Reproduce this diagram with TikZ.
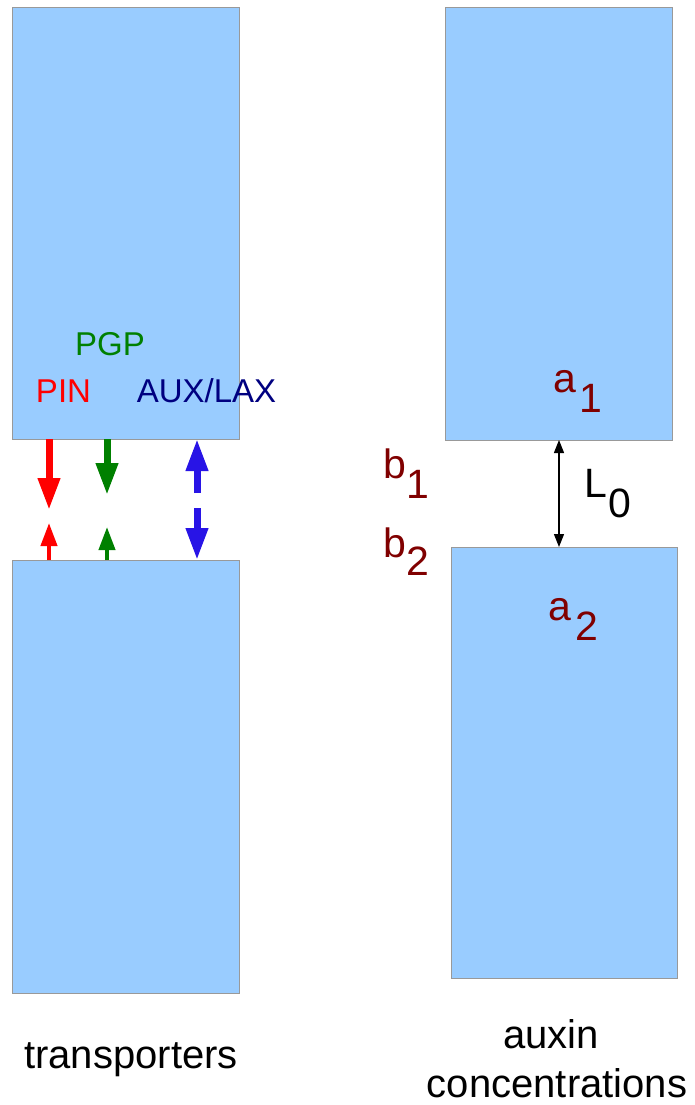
\documentclass[tikz,border=0pt]{standalone}
\usepackage{fontspec}
\setmainfont{Liberation Sans}
\usetikzlibrary{arrows.meta}
\definecolor{cellblue}{RGB}{153,204,255}
\definecolor{pinred}{RGB}{255,0,0}
\definecolor{pgpgreen}{RGB}{0,128,0}
\definecolor{auxnavy}{RGB}{0,0,128}
\definecolor{auxblue}{RGB}{40,20,230}
\definecolor{conc}{RGB}{128,0,0}

\begin{document}
\begin{tikzpicture}[x=1pt,y=-1pt,
  cell/.style={draw=gray!80,line width=0.8pt,fill=cellblue,anchor=north west,inner sep=0pt,outer sep=0pt},
  tr/.style={font=\fontsize{33}{38}\selectfont,anchor=base,inner sep=0pt},
  lab/.style={font=\fontsize{41}{46}\selectfont,text=conc,anchor=base west,inner sep=0pt},
  caption/.style={font=\fontsize{40}{46}\selectfont,anchor=base,inner sep=0pt,text depth=0pt},
  big/.style={line width=7pt,-{Triangle[length=32pt,width=21pt]}},
  small/.style={line width=4pt,-{Triangle[length=23pt,width=16pt]}}]
  \useasboundingbox (0,0) rectangle (695,1105);
  % cells
  \node[cell,minimum width=227pt,minimum height=432pt] (lt) at (12,7) {};
  \node[cell,minimum width=227pt,minimum height=433pt] (lb) at (12,560) {};
  \node[cell,minimum width=227pt,minimum height=433pt] (rt) at (445,7) {};
  \node[cell,minimum width=226pt,minimum height=431pt] (rb) at (451,547) {};
  % transporters
  \node[tr,text=pgpgreen] (pgp) at (110,355) {PGP};
  \node[tr,text=pinred] (pin) at (63.5,402) {PIN};
  \node[tr,text=auxnavy] (aux) at (206.5,402) {AUX/LAX};
  \coordinate (pin1) at (49,510);
  \coordinate (pin2) at (49,523);
  \coordinate (pgp1) at (107,495);
  \coordinate (pgp2) at (107,527);
  \coordinate (aux1) at (197,493);
  \coordinate (aux2) at (197,508);
  \draw[big,pinred] (lt.south -| pin1) -- (pin1);
  \draw[small,pinred] (lb.north -| pin2) -- (pin2);
  \draw[big,pgpgreen] (lt.south -| pgp1) -- (pgp1);
  \draw[small,pgpgreen] (lb.north -| pgp2) -- (pgp2);
  \draw[big,auxblue] (aux1) -- (lt.south -| aux1);
  \draw[big,auxblue] (aux2) -- (lb.north -| aux2);
  % concentrations
  \node[lab] (a1) at (553.5,392) {a\hspace{3pt}\raisebox{-20pt}{1}};
  \node[lab] (b1) at (383,478) {b\raisebox{-20pt}{1}};
  \node[lab] (b2) at (383,557) {b\raisebox{-18pt}{2}};
  \node[lab] (a2) at (548.5,620) {a\hspace{4pt}\raisebox{-20pt}{2}};
  \node[lab,text=black] (len) at (584,497) {L\hspace{1pt}\raisebox{-20pt}{0}};
  \coordinate (gap) at (559,0);
  \draw[line width=1.2pt,{Triangle[length=13pt,width=10pt]}-{Triangle[length=13pt,width=10pt]}]
    (rt.south -| gap) -- (rb.north -| gap);
  % captions
  \node[caption] (tra) at (131,1068) {transporters};
  \node[caption] (auxin) at (551,1048) {auxin};
  \node[caption] (concl) at (557,1097) {concentrations};
\end{tikzpicture}
\end{document}
